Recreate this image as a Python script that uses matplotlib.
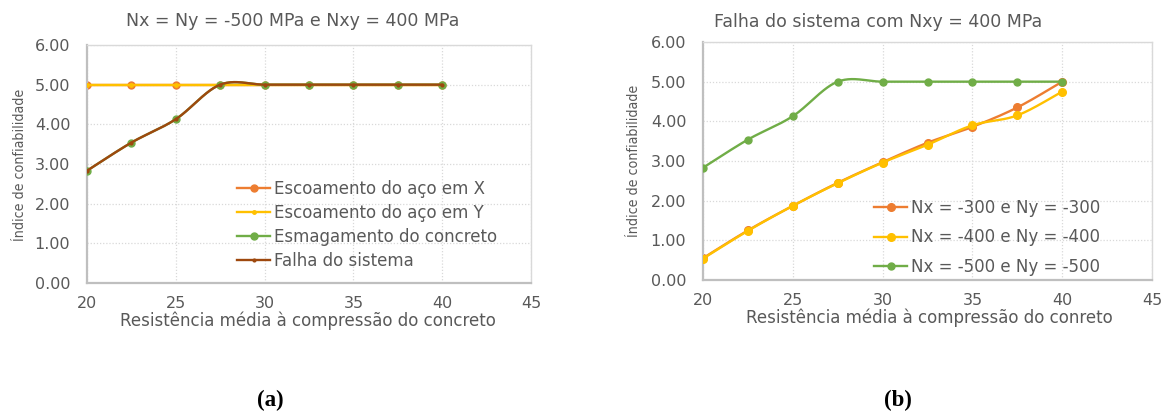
import numpy as np
import matplotlib
matplotlib.use("Agg")
import matplotlib.pyplot as plt
from matplotlib.lines import Line2D
from matplotlib import font_manager

plt.rcParams['font.family'] = ['DejaVu Sans']

# Mean concrete compressive strength (x axis)
fc = [20, 22.5, 25, 27.5, 30, 32.5, 35, 37.5, 40]

# (a) Nx = Ny = -500 MPa, Nxy = 400 MPa
beta_aco_x = [5.00, 5.00, 5.00, 5.00, 5.00, 5.00, 5.00, 5.00, 5.00]
beta_aco_y = [5.00, 5.00, 5.00, 5.00, 5.00, 5.00, 5.00, 5.00, 5.00]
beta_concreto = [2.83, 3.54, 4.13, 5.00, 5.00, 5.00, 5.00, 5.00, 5.00]
beta_sistema = [2.83, 3.54, 4.13, 5.00, 5.00, 5.00, 5.00, 5.00, 5.00]

# (b) system failure for Nxy = 400 MPa
beta_300 = [0.55, 1.25, 1.87, 2.45, 2.97, 3.46, 3.86, 4.35, 5.00]
beta_400 = [0.54, 1.24, 1.87, 2.44, 2.96, 3.41, 3.90, 4.15, 4.75]
beta_500 = [2.83, 3.54, 4.13, 5.00, 5.00, 5.00, 5.00, 5.00, 5.00]

labels_a = ["Escoamento do aço em X", "Escoamento do aço em Y",
            "Esmagamento do concreto", "Falha do sistema"]
labels_b = ["Nx = -300 e Ny = -300", "Nx = -400 e Ny = -400",
            "Nx = -500 e Ny = -500"]

ORANGE = "#ED7D31"
YELLOW = "#FFC000"
GREEN = "#70AD47"
BROWN = "#9E480E"
TXT = "#595959"
GRID = "#D9D9D9"
SPINE = "#BFBFBF"

W, H = 1169, 412

# narrower face for the rotated axis titles, if available
_names = {f.name for f in font_manager.fontManager.ttflist}
YLAB_FONT = dict(family='DejaVu Sans', stretch='condensed', fontsize=10.2) \
    if 'DejaVu Sans' in _names else dict(fontsize=9.4)


def smooth(x, y, n=40):
    """Cubic Bezier smoothing through every point (spreadsheet-style)."""
    x = np.asarray(x, float)
    y = np.asarray(y, float)
    px = np.concatenate([[x[0]], x, [x[-1]]])
    py = np.concatenate([[y[0]], y, [y[-1]]])
    xs, ys = [], []
    t = np.linspace(0, 1, n)
    for i in range(1, len(px) - 2):
        p0 = np.array([px[i], py[i]])
        p3 = np.array([px[i + 1], py[i + 1]])
        p1 = p0 + (np.array([px[i + 1], py[i + 1]]) - np.array([px[i - 1], py[i - 1]])) / 6
        p2 = p3 - (np.array([px[i + 2], py[i + 2]]) - np.array([px[i], py[i]])) / 6
        b = ((1 - t) ** 3)[:, None] * p0 + (3 * (1 - t) ** 2 * t)[:, None] * p1 \
            + (3 * (1 - t) * t ** 2)[:, None] * p2 + (t ** 3)[:, None] * p3
        xs.append(b[:, 0])
        ys.append(b[:, 1])
    return np.concatenate(xs), np.concatenate(ys)


def series(ax, x, y, color, lw, ms, z):
    sx, sy = smooth(x, y)
    ax.plot(sx, sy, color=color, lw=lw, zorder=z, solid_capstyle='round')
    ax.plot(x, y, ls='none', marker='o', ms=ms, color=color,
            markeredgecolor=color, zorder=z + 0.5)


def style(ax):
    ax.set_xlim(20, 45)
    ax.set_ylim(0, 6)
    ax.set_xticks(np.arange(20, 46, 5))
    ax.set_yticks(np.arange(0, 6.01, 1))
    ax.set_yticklabels([f"{v:.2f}" for v in np.arange(0, 6.01, 1)])
    ax.grid(True, color=GRID, ls=(0, (1, 1.5)), lw=0.9)
    ax.set_axisbelow(True)
    for s in ['left', 'bottom']:
        ax.spines[s].set_color(SPINE)
        ax.spines[s].set_linewidth(1.6)
    for s in ['top', 'right']:
        ax.spines[s].set_color(GRID)
        ax.spines[s].set_linewidth(1.0)
    ax.tick_params(length=0, colors=TXT, labelsize=11.5)
    ax.tick_params(axis='y', pad=12)
    ax.tick_params(axis='x', pad=9.5)


def ftext(x, y, s, **kw):
    fig.text(x / W, 1 - y / H, s, ha='center', va='center', color=TXT, **kw)


fig = plt.figure(figsize=(W / 100, H / 100), dpi=100)

# ---- (a)
ax1 = fig.add_axes([87 / W, 1 - 283 / H, 444 / W, 238 / H])
style(ax1)
series(ax1, fc, beta_aco_x, ORANGE, 1.7, 5, 2)
series(ax1, fc, beta_aco_y, YELLOW, 1.7, 2.5, 3)
series(ax1, fc, beta_concreto, GREEN, 1.7, 5, 4)
series(ax1, fc, beta_sistema, BROWN, 1.7, 2, 5)
ftext(293, 21, "Nx = Ny = -500 MPa e Nxy = 400 MPa", fontsize=12.5)
ftext(308, 321, "Resistência média à compressão do concreto", fontsize=12)
ftext(20, 165, "Índice de confiabilidade", rotation=90, **YLAB_FONT)
h_a = [Line2D([], [], color=c, lw=1.7, marker='o', ms=m, markeredgecolor=c)
       for c, m in zip([ORANGE, YELLOW, GREEN, BROWN], [5, 2.5, 5, 2])]
ax1.legend(h_a, labels_a, loc='upper left', bbox_to_anchor=(0.338, (283 - 180) / 238),
           frameon=False, fontsize=12, labelcolor=TXT, handlelength=2.0,
           handletextpad=0.2, labelspacing=0.36, borderaxespad=0, borderpad=0)

# ---- (b)
ax2 = fig.add_axes([703 / W, 1 - 280 / H, 449 / W, 238 / H])
style(ax2)
series(ax2, fc, beta_300, ORANGE, 1.7, 5.5, 2)
series(ax2, fc, beta_400, YELLOW, 1.7, 5.5, 3)
series(ax2, fc, beta_500, GREEN, 1.7, 5, 4)
ftext(878, 22, "Falha do sistema com Nxy = 400 MPa", fontsize=12.5)
ftext(929, 318, "Resistência média à compressão do conreto", fontsize=12)
ftext(634, 161, "Índice de confiabilidade", rotation=90, **YLAB_FONT)
h_b = [Line2D([], [], color=c, lw=1.7, marker='o', ms=m, markeredgecolor=c)
       for c, m in zip([ORANGE, YELLOW, GREEN], [5.5, 5.5, 5])]
ax2.legend(h_b, labels_b, loc='upper left', bbox_to_anchor=(0.381, (280 - 199) / 238),
           frameon=False, fontsize=12, labelcolor=TXT, handlelength=2.0,
           handletextpad=0.2, labelspacing=0.68, borderaxespad=0, borderpad=0)

fig.text(270 / W, 1 - 400 / H, "(a)", family='Liberation Serif', weight='bold',
         fontsize=16.5, ha='center', va='center', color='black')
fig.text(898 / W, 1 - 400 / H, "(b)", family='Liberation Serif', weight='bold',
         fontsize=16.5, ha='center', va='center', color='black')

fig.savefig("out.png", dpi=100)
